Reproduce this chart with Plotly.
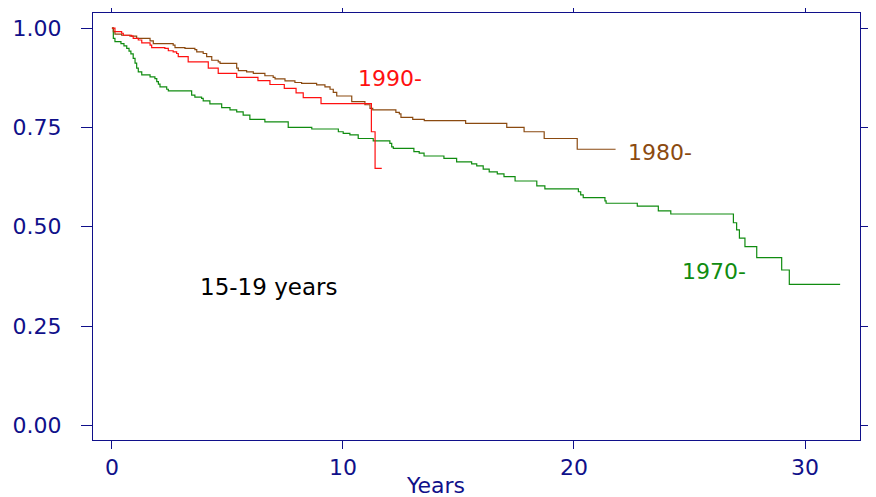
import plotly.graph_objects as go

# Kaplan-Meier style step data (time in years, survival proportion)
t_1970 = [0, 0.06, 0.13, 0.39, 0.52, 0.64, 0.74, 0.82, 0.92, 1.0, 1.07, 1.14, 1.29, 1.65, 1.86, 1.94, 2.01, 2.08, 2.37, 2.44,
          3.45, 3.59, 3.88, 3.95, 4.24, 4.75, 5.11, 5.40, 5.68, 5.97, 6.62, 7.63, 8.65, 9.80, 10.01, 10.30, 10.66, 11.31, 12.03, 12.11,
          12.18, 13.07, 13.30, 13.51, 14.37, 14.92, 15.57, 15.79, 16.07, 16.33, 16.68, 16.97, 17.45, 18.39, 18.74, 20.19, 20.29, 20.40, 21.34, 21.39,
          22.74, 23.65, 24.19, 26.90, 27.04, 27.16, 27.40, 27.91, 28.99, 29.32, 31.52]
s_1970 = [1.0, 0.974, 0.966, 0.961, 0.955, 0.949, 0.942, 0.935, 0.924, 0.912, 0.899, 0.890, 0.882, 0.877, 0.873, 0.865, 0.859, 0.852, 0.846, 0.842,
          0.831, 0.826, 0.823, 0.817, 0.809, 0.800, 0.794, 0.789, 0.781, 0.770, 0.764, 0.750, 0.746, 0.739, 0.735, 0.731, 0.722, 0.716, 0.710, 0.701,
          0.697, 0.689, 0.685, 0.678, 0.672, 0.663, 0.658, 0.653, 0.645, 0.638, 0.633, 0.626, 0.615, 0.603, 0.595, 0.588, 0.580, 0.573, 0.565, 0.559,
          0.552, 0.540, 0.532, 0.510, 0.492, 0.471, 0.450, 0.422, 0.391, 0.355, 0.355]

t_1980 = [0, 0.06, 0.13, 0.42, 0.78, 1.07, 1.65, 1.79, 2.65, 2.73, 3.16, 3.59, 3.67, 3.95, 4.10, 4.32, 4.60, 4.68, 5.40, 5.47,
          5.83, 6.12, 6.62, 6.98, 7.06, 7.49, 7.92, 8.21, 8.86, 9.22, 9.44, 9.58, 9.73, 10.38, 10.95, 11.17, 11.29, 12.29, 12.44, 12.51,
          13.02, 13.52, 15.31, 17.09, 17.84, 18.71, 20.14, 21.80]
s_1980 = [1.0, 0.991, 0.985, 0.982, 0.980, 0.974, 0.968, 0.961, 0.957, 0.951, 0.949, 0.946, 0.940, 0.936, 0.928, 0.919, 0.915, 0.911, 0.899, 0.893,
          0.890, 0.886, 0.880, 0.876, 0.872, 0.867, 0.863, 0.861, 0.857, 0.852, 0.846, 0.838, 0.829, 0.815, 0.807, 0.798, 0.794, 0.788, 0.784, 0.775,
          0.770, 0.767, 0.760, 0.750, 0.739, 0.722, 0.695, 0.695]

t_1990 = [0, 0.13, 0.42, 0.49, 0.85, 0.92, 1.14, 1.29, 1.65, 1.72, 2.29, 2.44, 2.65, 2.80, 2.87, 3.30, 4.17, 4.60, 5.40, 6.32,
          6.84, 7.46, 7.97, 8.28, 9.05, 11.23, 11.39, 11.68]
s_1990 = [1.0, 0.991, 0.987, 0.982, 0.980, 0.974, 0.970, 0.963, 0.957, 0.951, 0.949, 0.943, 0.940, 0.936, 0.928, 0.915, 0.899, 0.886, 0.876, 0.868,
          0.858, 0.848, 0.837, 0.825, 0.810, 0.739, 0.647, 0.647]

x_ticks = [0, 10, 20, 30]
y_ticks = [0.0, 0.25, 0.5, 0.75, 1.0]
y_tick_text = ["0.00", "0.25", "0.50", "0.75", "1.00"]

NAVY = "#10108a"
GREEN = "#108c10"
BROWN = "#8b4a10"
RED = "#ff1010"
FONT = "DejaVu Sans, Liberation Sans, Arial, sans-serif"

fig = go.Figure()
fig.add_trace(go.Scatter(x=t_1970, y=s_1970, mode="lines", line=dict(shape="hv", color=GREEN, width=1.2), showlegend=False))
fig.add_trace(go.Scatter(x=t_1980, y=s_1980, mode="lines", line=dict(shape="hv", color=BROWN, width=1.2), showlegend=False))
fig.add_trace(go.Scatter(x=t_1990, y=s_1990, mode="lines", line=dict(shape="hv", color=RED, width=1.2), showlegend=False))

labels = [("1990-", 10.65, 0.874, RED, 22), ("1980-", 22.34, 0.688, BROWN, 22),
          ("1970-", 24.68, 0.388, GREEN, 22), ("15-19 years", 3.81, 0.348, "#000000", 23)]
for txt, lx, ly, col, fs in labels:
    fig.add_annotation(x=lx, y=ly, text=txt, showarrow=False, xanchor="left", yanchor="middle",
                       xshift=-2, font=dict(family=FONT, size=fs, color=col))

fig.add_annotation(x=0.447, y=-0.107, xref="paper", yref="paper", text="Years", showarrow=False,
                   xanchor="center", yanchor="middle", font=dict(family=FONT, size=22, color=NAVY))

fig.update_xaxes(range=[-0.82, 32.38], tickvals=x_ticks, ticks="outside", ticklen=8, tickcolor=NAVY, tickwidth=1,
                 showline=True, linecolor=NAVY, linewidth=1, mirror="ticks", showgrid=False, zeroline=False,
                 automargin=False, tickfont=dict(family=FONT, size=22, color=NAVY))
fig.update_yaxes(range=[-0.037, 1.038], tickvals=y_ticks, ticktext=y_tick_text, ticks="outside", ticklen=11, tickcolor=NAVY,
                 tickwidth=1, showline=True, linecolor=NAVY, linewidth=1, mirror="ticks", showgrid=False, zeroline=False,
                 automargin=False, ticklabelstandoff=15, tickfont=dict(family=FONT, size=22, color=NAVY))

# page body has an 8px default margin, so the figure is sized/offset to land the frame where the reference has it
fig.update_layout(width=868, height=489, margin=dict(l=85, r=16, t=5, b=57, autoexpand=False),
                  plot_bgcolor="white", paper_bgcolor="white", font=dict(family=FONT))

fig.write_html("out.html")
